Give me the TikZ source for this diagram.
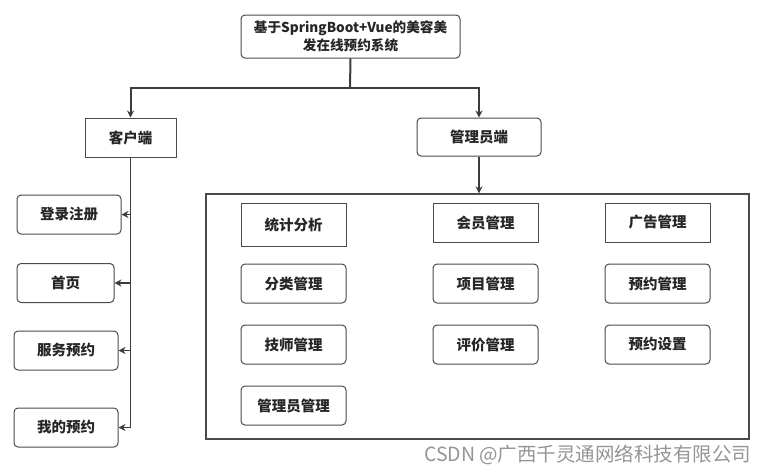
\documentclass[tikz,border=0pt]{standalone}
\usepackage{fontspec}
\setmainfont{Noto Sans CJK SC}
\usepackage{tikz}
\usetikzlibrary{positioning}
\usetikzlibrary{shapes.geometric, arrows.meta}
\definecolor{linegray}{HTML}{3C3C3C}
\definecolor{boxgray}{HTML}{4A4A4A}
\definecolor{markgray}{HTML}{959595}
\newcommand\boxfont{\fontsize{14.5}{16}\selectfont\bfseries}
\newcommand\titlefont{\fontsize{13.6}{18}\selectfont\bfseries}
\newcommand\markfont{\fontsize{19.5}{20}\selectfont}
\tikzstyle{arrow} = [line width=1.6pt,draw=linegray,-{Stealth[length=7pt,width=7pt]}]
\tikzstyle{line} = [line width=2pt,draw=linegray]
\tikzstyle{sqbox} = [draw=boxgray,line width=1pt,minimum width=105pt,minimum height=39pt,inner sep=2pt,font=\boxfont,text=black!85]
\tikzstyle{rbox} = [sqbox,rounded corners=4pt]

\begin{document}
\begin{tikzpicture}[x=1pt,y=-1pt]
				\useasboundingbox (0,0) rectangle (770,475);
				
				%Nodes
				\node [rbox,minimum width=219pt,minimum height=43pt,align=center,font=\titlefont] (title) at (350.5,36.5) {基于SpringBoot+Vue的美容美\\发在线预约系统};
				\coordinate (split) at (350,88);
				\node [sqbox,minimum width=91pt] (client) at (130.5,137.5) {客户端};
				\node [rbox,minimum width=124pt,minimum height=38pt] (admin) at (479,137) {管理员端};
				
				%Client side
				\node [rbox,minimum width=104pt] (login) at (69,214.5) {登录注册};
				\node [rbox,minimum width=97pt] (home) at (65.5,283) {首页};
				\node [rbox,minimum width=104pt] (service) at (66,350.5) {服务预约};
				\node [rbox,minimum width=104pt] (mine) at (66,427.5) {我的预约};
				
				%Admin side
				\node [draw=boxgray,line width=1.3pt,minimum width=543pt,minimum height=245pt] (panel) at (477.5,316.5) {};
				\node [sqbox,minimum height=43pt] (stat) at (293.5,224.5) {统计分析};
				\node [sqbox] (member) at (485.5,222.5) {会员管理};
				\node [sqbox] (advert) at (657.5,222.5) {广告管理};
				\node [rbox,below=17pt of stat] (category) {分类管理};
				\node [rbox,below=21pt of category] (tech) {技师管理};
				\node [rbox,below=21pt of tech] (manager) {管理员管理};
				\node [rbox,below=21pt of member] (project) {项目管理};
				\node [rbox,below=21pt of project] (review) {评价管理};
				\node [rbox,below=21pt of advert] (booking) {预约管理};
				\node [rbox,below=21pt of booking] (setting) {预约设置};
				
				\node [anchor=east,text=markgray,font=\markfont] (mark) at (755,455) {CSDN @广西千灵通网络科技有限公司};
				
				%Lines
				\draw [line] (title.south) -- (split);
				\draw [arrow,line width=2pt] (split) -| (client.north);
				\draw [arrow,line width=2pt] (split) -| (admin.north);
				\draw [arrow] (admin.south) -- (admin.south |- panel.north);
				\draw [line,line width=1.6pt] (client.south) -- (client.south |- mine.east);
				\foreach \n in {login,home,service,mine}
					\draw [arrow] (client.south |- \n.east) -- (\n.east);
				
			\end{tikzpicture}
\end{document}
